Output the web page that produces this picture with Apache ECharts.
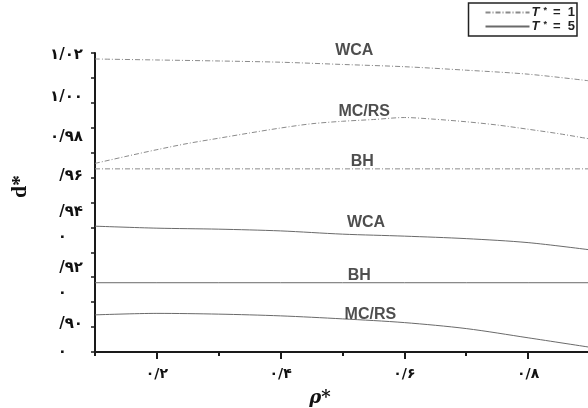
<!DOCTYPE html>
<html>
<head>
<meta charset="utf-8">
<script src="https://cdn.jsdelivr.net/npm/echarts@6/dist/echarts.min.js"></script>
<style>html,body{margin:0;padding:0;background:#fff}#c{width:588px;height:408px}</style>
</head>
<body>
<div id="c"></div>
<script>
// ---- data ----
var rhoCoarse = [0.1, 0.2, 0.3, 0.4, 0.5, 0.6, 0.7, 0.8, 0.9];
var rhoFine = [0.1, 0.15, 0.2, 0.25, 0.3, 0.35, 0.4, 0.45, 0.5, 0.55, 0.6, 0.65, 0.7, 0.75, 0.8, 0.85, 0.9];
var wcaT1 = [1.0176, 1.0172, 1.0168, 1.0163, 1.0154, 1.0145, 1.0131, 1.0115, 1.0088];
var mcrsT1 = [0.9757, 0.9785, 0.9812, 0.9837, 0.9858, 0.9879, 0.9899, 0.9916, 0.9926, 0.9933, 0.9941, 0.9934, 0.9924, 0.9911, 0.9894, 0.9876, 0.9855];
var bhT1 = [0.9735, 0.9735, 0.9735, 0.9735, 0.9735, 0.9735, 0.9735, 0.9735, 0.9735];
var wcaT5 = [0.9505, 0.9497, 0.9493, 0.9486, 0.9473, 0.9465, 0.9455, 0.9439, 0.9410];
var bhT5 = [0.9278, 0.9278, 0.9278, 0.9278, 0.9278, 0.9278, 0.9278, 0.9278, 0.9278];
var mcrsT5 = [0.9149, 0.9155, 0.9152, 0.9145, 0.9133, 0.9118, 0.9094, 0.9057, 0.9019];

var seriesNames = ['T* = 1', 'T* = 5'];
var annoText = ['WCA', 'MC/RS', 'BH', 'WCA', 'BH', 'MC/RS'];
var annoRho = [0.519, 0.535, 0.532, 0.538, 0.527, 0.545];
var annoD = [1.0209, 0.9964, 0.9763, 0.9520, 0.9307, 0.9151];

var xTickLabelValues = [0.2, 0.4, 0.6, 0.8];
var xTickLabels = ['۰/۲', '۰/۴', '۰/۶', '۰/۸'];
var yTickLabelValues = [1.0193, 1.0024, 0.9863, 0.9707, 0.9562, 0.9462, 0.9337, 0.9237, 0.9112, 0.90];
var yTickLabels = ['۱/۰۲', '۱/۰۰', '۰/۹۸', '/۹۶', '/۹۴', '۰', '/۹۲', '۰', '/۹۰', '۰'];

function pairs(xs, ys) { return xs.map(function (x, i) { return [x, ys[i]]; }); }

var t1Style = { color: '#8a8a8a', width: 1, type: [5, 2, 1, 2] };
var t5Style = { color: '#6a6a6a', width: 1, type: 'solid' };

function lineSeries(name, xs, ys, style, smooth) {
  return {
    type: 'line', name: name, data: pairs(xs, ys), showSymbol: false, symbol: 'none',
    smooth: smooth, lineStyle: style, itemStyle: { color: style.color }, silent: true, z: 3
  };
}

var chart = echarts.init(document.getElementById('c'), null, { renderer: 'canvas' });
var axisColor = '#1a1a1a';
var option = {
  animation: false,
  backgroundColor: '#ffffff',
  grid: { left: 95, top: 53, width: 495, bottom: 56, containLabel: false, outerBoundsMode: 'none' },
  legend: {
    data: [seriesNames[0], seriesNames[1]],
    orient: 'vertical', right: 11, top: 3,
    itemWidth: 44, itemHeight: 10, itemGap: 1,
    padding: [3, 2, 3, 16],
    borderColor: '#222', borderWidth: 1.5,
    backgroundColor: '#fff',
    itemStyle: { opacity: 0 },
    formatter: function (n) { return '{t|T}{s|*}{e|=  ' + n.slice(5) + '}'; },
    textStyle: {
      rich: {
        t: { fontFamily: 'Liberation Sans', fontStyle: 'italic', fontWeight: 'bold', fontSize: 13, color: '#222', padding: [0, 0, 0, -3] },
        s: { fontFamily: 'Liberation Sans', fontWeight: 'bold', fontSize: 9, color: '#222', verticalAlign: 'top', padding: [0, 6, 4, 4] },
        e: { fontFamily: 'Liberation Sans', fontWeight: 'bold', fontSize: 13, color: '#222' }
      }
    }
  },
  xAxis: [{
    type: 'value', min: 0.1, max: 0.9, interval: 0.1,
    name: 'ρ*', nameLocation: 'middle', nameGap: 37,
    nameTextStyle: { fontFamily: 'DejaVu Serif', fontStyle: 'italic', fontWeight: 'bold', fontSize: 18, color: '#111', padding: [0, 45, 0, 0] },
    axisLine: { show: true, onZero: false, lineStyle: { color: axisColor, width: 2 } },
    axisTick: { show: true, length: 4, lineStyle: { color: axisColor, width: 2 } },
    axisLabel: {
      show: true, customValues: xTickLabelValues, margin: 15,
      fontFamily: 'DejaVu Sans', fontWeight: 'bold', fontSize: 14, color: '#111',
      formatter: function (v) {
        var i = xTickLabelValues.findIndex(function (a) { return Math.abs(a - v) < 1e-6; });
        return i >= 0 ? xTickLabels[i] : '';
      }
    },
    splitLine: { show: false }
  }, {
    type: 'value', min: 0.1, max: 0.9, position: 'bottom',
    axisLine: { show: false },
    axisTick: { show: true, length: 7, customValues: xTickLabelValues, lineStyle: { color: axisColor, width: 2 } },
    axisLabel: { show: false },
    splitLine: { show: false }
  }],
  yAxis: {
    type: 'value', min: 0.90, max: 1.02, interval: 0.01,
    name: 'd*', nameLocation: 'middle', nameGap: 64, nameRotate: 90,
    nameTextStyle: { fontFamily: 'Liberation Serif', fontWeight: 'bold', fontSize: 22, color: '#111', padding: [0, 0, 0, 32] },
    axisLine: { show: true, onZero: false, lineStyle: { color: axisColor, width: 2 } },
    axisTick: { show: true, length: 4, lineStyle: { color: axisColor, width: 1.5 } },
    axisLabel: {
      show: true, customValues: yTickLabelValues, margin: 12,
      formatter: function (v) {
        var i = yTickLabelValues.findIndex(function (a) { return Math.abs(a - v) < 1e-6; });
        if (i < 0) return '';
        var t = yTickLabels[i];
        return t === '۰' ? '{z|' + t + '}' : '{a|' + t + '}';
      },
      rich: {
        a: { fontFamily: 'DejaVu Sans', fontWeight: 'bold', fontSize: 15, color: '#111' },
        z: { fontFamily: 'DejaVu Sans', fontWeight: 'bold', fontSize: 15, color: '#111', padding: [0, 16, 0, 0] }
      }
    },
    splitLine: { show: false }
  },
  series: [
    lineSeries(seriesNames[0], rhoCoarse, wcaT1, t1Style, 0.3),
    lineSeries(seriesNames[0], rhoFine, mcrsT1, t1Style, 0.3),
    lineSeries(seriesNames[0], rhoCoarse, bhT1, t1Style, false),
    lineSeries(seriesNames[1], rhoCoarse, wcaT5, t5Style, 0.3),
    lineSeries(seriesNames[1], rhoCoarse, bhT5, t5Style, false),
    lineSeries(seriesNames[1], rhoCoarse, mcrsT5, t5Style, 0.3),
    {
      type: 'scatter', name: 'labels', symbolSize: 0, silent: true, z: 5, clip: false,
      data: annoText.map(function (t, i) { return { value: [annoRho[i], annoD[i]], name: t }; }),
      label: {
        show: true, position: 'inside', formatter: function (p) { return p.name; },
        fontFamily: 'Liberation Sans', fontWeight: 'bold', fontSize: 16, color: '#222'
      }
    }
  ]
};
chart.setOption(option);
</script>
</body>
</html>
